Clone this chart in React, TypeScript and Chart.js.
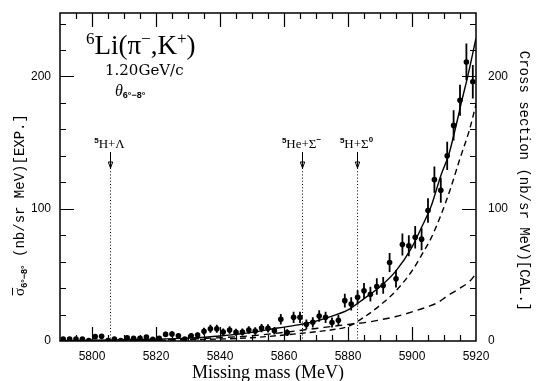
import React, { useEffect, useRef } from "react";
import { Chart, registerables } from "chart.js";

Chart.register(...registerables);

// ---- data ----
const dataMass = [
  5791, 5793, 5795, 5797, 5799, 5801, 5803, 5805, 5807, 5809,
  5811, 5813, 5815, 5817, 5819, 5821, 5823, 5825, 5827, 5829,
  5831, 5833, 5835, 5837, 5839, 5841, 5843, 5845, 5847, 5849,
  5851, 5853, 5855, 5857, 5859, 5861, 5863, 5865, 5867, 5869,
  5871, 5873, 5875, 5877, 5879, 5881, 5883, 5885, 5887, 5889,
  5891, 5893, 5895, 5897, 5899, 5901, 5903, 5905, 5907, 5909,
  5911, 5913, 5915, 5917, 5919,
];
const dataValue = [
  1.5, 1.5, 1.5, 1.5, 0.3, 3.3, 3.5, 0.3, 1.5, 0.3,
  2.5, 2.0, 2.0, 3.0, 1.3, 2.0, 5.0, 5.3, 4.0, 1.5,
  4.0, 4.5, 7.3, 9.3, 9.3, 6.8, 8.3, 6.6, 6.8, 8.3,
  7.6, 9.8, 9.6, 7.8, 16.4, 6.3, 17.9, 17.9, 12.6, 14.1,
  18.9, 17.9, 14.0, 15.7, 30.5, 28.0, 33.0, 38.0, 35.4, 41.2,
  42.0, 59.3, 47.0, 73.0, 72.0, 78.5, 77.0, 98.7, 122, 114,
  140, 163, 182, 211, 196,
];
const dataError = [
  1.0, 1.0, 1.0, 1.0, 1.0, 1.6, 1.6, 1.0, 1.0, 1.0,
  1.4, 1.3, 1.3, 1.5, 1.2, 1.4, 2.0, 2.0, 1.8, 1.3,
  1.8, 2.0, 2.7, 3.0, 3.0, 2.6, 2.9, 2.6, 2.6, 2.9,
  2.8, 3.1, 3.1, 2.8, 4.0, 2.6, 4.2, 4.2, 3.6, 3.8,
  4.3, 4.2, 3.8, 4.0, 5.2, 5.0, 5.4, 5.8, 5.6, 6.2,
  6.3, 7.2, 6.6, 8.3, 8.0, 8.5, 8.3, 9.2, 10.0, 9.5,
  10.7, 11.4, 11.7, 13.9, 12.6,
];

// total calculation (solid)
const totalMass = [5790, 5800, 5810, 5820, 5830, 5840, 5850, 5858, 5864, 5870, 5875, 5880, 5885, 5890, 5895, 5900, 5903, 5906, 5909, 5911.5, 5913.5, 5915.5, 5917.5, 5920];
const totalValue = [0.3, 0.6, 1.0, 1.4, 2.2, 3.8, 6.5, 9.8, 12, 15, 18.8, 23.5, 32, 41, 53, 71, 86, 102, 125, 141, 160, 181, 201, 229];

// steep component (upper dashed)
const upperMass = [5790, 5810, 5820, 5830, 5840, 5850, 5860, 5870, 5875, 5880, 5885, 5890, 5895, 5900, 5903, 5906, 5909, 5912, 5915, 5918, 5920];
const upperValue = [0, 0.2, 0.5, 1.0, 1.5, 2.5, 4.5, 7, 8.5, 11, 18, 27, 38, 53, 65, 78, 95, 115, 138, 160, 179];

// slow component (lower dashed)
const lowerMass = [5790, 5810, 5820, 5830, 5840, 5850, 5860, 5870, 5880, 5887, 5890, 5895, 5900, 5905, 5908, 5911, 5915, 5918, 5920];
const lowerValue = [0.1, 0.3, 0.7, 1.4, 2.5, 4, 6.5, 9.5, 12.5, 14.6, 16, 18.5, 22, 26, 29, 34, 40, 45, 51];

// thresholds
const thresholdMass = [5805.6, 5865.7, 5882.9];
const thresholdNucleus = ["H", "He", "H"];
const thresholdHyperon = ["Λ", "Σ", "Σ"];
const thresholdCharge = ["", "−", "0"];

const xTickValues = [5800, 5820, 5840, 5860, 5880, 5900, 5920];
const yTickValues = [0, 100, 200];

const X_MIN = 5790;
const X_MAX = 5920;
const Y_MAX = 248;

type Part = { t: string; f: string; dy?: number };

function richWidth(ctx: CanvasRenderingContext2D, parts: Part[]) {
  let w = 0;
  for (const p of parts) {
    ctx.font = p.f;
    w += ctx.measureText(p.t).width;
  }
  return w;
}

function drawRich(ctx: CanvasRenderingContext2D, parts: Part[], x: number, y: number, center: boolean) {
  let cx = center ? x - richWidth(ctx, parts) / 2 : x;
  const starts: number[] = [];
  for (const p of parts) {
    ctx.font = p.f;
    starts.push(cx);
    ctx.fillText(p.t, cx, y + (p.dy || 0));
    cx += ctx.measureText(p.t).width;
  }
  return starts;
}

const SERIF = '"Liberation Serif", "DejaVu Serif", serif';
const WSERIF = '"DejaVu Serif", "Liberation Serif", serif';
const SANS = '"Liberation Sans", Arial, sans-serif';
const MONO = '"Liberation Mono", "DejaVu Sans Mono", monospace';

const marksPlugin = {
  id: "marks",
  afterDatasetsDraw(chart: any) {
    const ctx: CanvasRenderingContext2D = chart.ctx;
    const a = chart.chartArea;
    const xs = chart.scales.x;
    const ys = chart.scales.y;
    ctx.save();
    ctx.strokeStyle = "#000";
    ctx.fillStyle = "#000";

    // error bars
    ctx.lineWidth = 1.8;
    ctx.beginPath();
    for (let i = 0; i < dataMass.length; i++) {
      const px = xs.getPixelForValue(dataMass[i]);
      const lo = Math.max(0, dataValue[i] - dataError[i]);
      const hi = dataValue[i] + dataError[i];
      ctx.moveTo(px, Math.min(a.bottom, ys.getPixelForValue(lo)));
      ctx.lineTo(px, ys.getPixelForValue(hi));
    }
    ctx.stroke();

    // thresholds
    const labelY = 148;
    const arrowTop = 152;
    const arrowTip = 168;
    for (let i = 0; i < thresholdMass.length; i++) {
      const px = Math.round(xs.getPixelForValue(thresholdMass[i])) + 0.5;
      ctx.lineWidth = 1;
      ctx.setLineDash([1, 2.2]);
      ctx.beginPath();
      ctx.moveTo(px, arrowTip);
      ctx.lineTo(px, a.bottom);
      ctx.stroke();
      ctx.setLineDash([]);
      ctx.beginPath();
      ctx.moveTo(px, arrowTop);
      ctx.lineTo(px, arrowTip);
      ctx.stroke();
      ctx.beginPath();
      ctx.moveTo(px - 2.2, arrowTip - 6);
      ctx.lineTo(px, arrowTip);
      ctx.lineTo(px + 2.2, arrowTip - 6);
      ctx.closePath();
      ctx.stroke();
      const parts: Part[] = [
        { t: "5", f: `bold 8px ${SANS}`, dy: -5 },
        { t: thresholdNucleus[i] + "+" + thresholdHyperon[i], f: `13px ${SERIF}` },
      ];
      if (thresholdCharge[i]) parts.push({ t: thresholdCharge[i], f: `bold 8px ${SANS}`, dy: -6 });
      ctx.textAlign = "left";
      ctx.textBaseline = "alphabetic";
      drawRich(ctx, parts, px - 1, labelY, true);
    }
    ctx.restore();
  },
};

const framePlugin = {
  id: "frame",
  afterDraw(chart: any) {
    const ctx: CanvasRenderingContext2D = chart.ctx;
    const a = chart.chartArea;
    const xs = chart.scales.x;
    const ys = chart.scales.y;
    ctx.save();
    ctx.globalAlpha = 1;
    ctx.setLineDash([]);
    ctx.strokeStyle = "#000000";
    ctx.fillStyle = "#000000";

    // frame
    const L = Math.round(a.left), R = Math.round(a.right), T = Math.round(a.top), B = Math.round(a.bottom);
    ctx.lineWidth = 1.5;
    ctx.beginPath();
    ctx.moveTo(L, T);
    ctx.lineTo(R, T);
    ctx.lineTo(R, B);
    ctx.lineTo(L, B);
    ctx.closePath();
    ctx.stroke();

    // inward ticks
    ctx.lineWidth = 1.2;
    ctx.beginPath();
    for (let v = X_MIN + 5; v < X_MAX; v += 5) {
      const px = Math.round(xs.getPixelForValue(v)) + 0.5;
      const len = v % 20 === 0 ? 14 : 6;
      ctx.moveTo(px, B);
      ctx.lineTo(px, B - len);
      ctx.moveTo(px, T);
      ctx.lineTo(px, T + len);
    }
    for (let v = 20; v < Y_MAX; v += 20) {
      const py = Math.round(ys.getPixelForValue(v)) + 0.5;
      const len = v % 100 === 0 ? 14 : 6;
      ctx.moveTo(L, py);
      ctx.lineTo(L + len, py);
      ctx.moveTo(R, py);
      ctx.lineTo(R - len, py);
    }
    ctx.stroke();

    // reaction annotation
    ctx.textAlign = "left";
    ctx.textBaseline = "alphabetic";
    drawRich(ctx, [
      { t: "6", f: `17px ${SERIF}`, dy: -10 },
      { t: "Li(π", f: `27px ${SERIF}` },
      { t: "−", f: `17px ${SERIF}`, dy: -10 },
      { t: ",K", f: `27px ${SERIF}` },
      { t: "+", f: `17px ${SERIF}`, dy: -10 },
      { t: ")", f: `27px ${SERIF}` },
    ], 86, 54, false);
    drawRich(ctx, [{ t: "1.20GeV/c", f: `15px ${WSERIF}` }], 105, 75, false);
    drawRich(ctx, [
      { t: "θ", f: `italic 16px ${SERIF}` },
      { t: "6°−8°", f: `bold 9px ${SANS}`, dy: 2 },
    ], 115, 96, false);

    // axis titles
    ctx.font = `18px ${SERIF}`;
    ctx.textAlign = "center";
    ctx.fillText("Missing mass (MeV)", (a.left + a.right) / 2, 378);

    // left title
    ctx.save();
    ctx.translate(19, 205);
    ctx.rotate(-Math.PI / 2);
    ctx.textAlign = "left";
    const lparts: Part[] = [
      { t: "σ", f: `15px ${SERIF}` },
      { t: "6°−8°", f: `bold 9px ${SANS}`, dy: 3 },
      { t: " (nb/sr MeV)[EXP.]", f: `14px ${MONO}` },
    ];
    const st = drawRich(ctx, lparts, 0, 5, true);
    ctx.font = `15px ${SERIF}`;
    const sw = ctx.measureText("σ").width;
    ctx.lineWidth = 1;
    ctx.beginPath();
    ctx.moveTo(st[0] + 0.5, -6.5);
    ctx.lineTo(st[0] + sw, -6.5);
    ctx.stroke();
    ctx.restore();

    // right title
    ctx.save();
    ctx.translate(525, 181);
    ctx.rotate(Math.PI / 2);
    ctx.textAlign = "center";
    ctx.font = `14px ${MONO}`;
    ctx.fillText("Cross section (nb/sr MeV)[CAL.]", 0, 5);
    ctx.restore();

    ctx.restore();
  },
};

export default function App() {
  const ref = useRef<HTMLCanvasElement | null>(null);
  useEffect(() => {
    document.body.style.margin = "0";
    const canvas = ref.current;
    if (!canvas) return;
    const pts = dataMass.map((m, i) => ({ x: m, y: dataValue[i] }));
    const tot = totalMass.map((m, i) => ({ x: m, y: totalValue[i] }));
    const up = upperMass.map((m, i) => ({ x: m, y: upperValue[i] }));
    const low = lowerMass.map((m, i) => ({ x: m, y: lowerValue[i] }));
    const tickFont = { family: SANS, size: 12 };
    const zeroPad = (s: any) => { s.paddingTop = 0; s.paddingBottom = 0; s.paddingLeft = 0; s.paddingRight = 0; };
    const chart = new Chart(canvas, {
      type: "scatter",
      data: {
        datasets: [
          { type: "line", data: tot, borderColor: "#000", borderWidth: 1.4, pointRadius: 0, cubicInterpolationMode: "monotone", fill: false },
          { type: "line", data: up, borderColor: "#000", borderWidth: 1.4, borderDash: [6, 4], pointRadius: 0, cubicInterpolationMode: "monotone", fill: false },
          { type: "line", data: low, borderColor: "#000", borderWidth: 1.4, borderDash: [7, 5], pointRadius: 0, cubicInterpolationMode: "monotone", fill: false },
          { type: "scatter", data: pts, pointRadius: 2.8, pointBackgroundColor: "#000", pointBorderWidth: 0, pointBorderColor: "#000" },
        ] as any,
      },
      options: {
        animation: false,
        responsive: false,
        maintainAspectRatio: false,
        events: [],
        layout: { padding: { top: 13, left: 0, right: 0, bottom: 0 } },
        plugins: { legend: { display: false }, tooltip: { enabled: false } },
        scales: {
          x: {
            type: "linear",
            min: X_MIN,
            max: X_MAX,
            grid: { display: false, drawTicks: false },
            border: { display: false },
            ticks: { font: tickFont, color: "#000", padding: 8, maxRotation: 0, autoSkip: false, callback: (v: any) => String(v) },
            afterBuildTicks: (s: any) => { s.ticks = xTickValues.map((v) => ({ value: v })); },
            afterFit: (s: any) => { s.height = 40; zeroPad(s); },
          },
          y: {
            type: "linear",
            position: "left",
            min: 0,
            max: Y_MAX,
            grid: { display: false, drawTicks: false },
            border: { display: false },
            ticks: { font: tickFont, color: "#000", padding: 9, autoSkip: false, callback: (v: any) => String(v) },
            afterBuildTicks: (s: any) => { s.ticks = yTickValues.map((v) => ({ value: v })); },
            afterFit: (s: any) => { s.width = 60; zeroPad(s); },
          },
          y2: {
            type: "linear",
            position: "right",
            min: 0,
            max: Y_MAX,
            grid: { display: false, drawTicks: false },
            border: { display: false },
            ticks: { font: tickFont, color: "#000", padding: 12, autoSkip: false, callback: (v: any) => String(v) },
            afterBuildTicks: (s: any) => { s.ticks = yTickValues.map((v) => ({ value: v })); },
            afterFit: (s: any) => { s.width = 64; zeroPad(s); },
          },
        },
      } as any,
      plugins: [marksPlugin, framePlugin],
    });
    return () => chart.destroy();
  }, []);
  return (
    <div style={{ position: "fixed", left: 0, top: 0, width: 540, height: 381, background: "#fff" }}>
      <canvas ref={ref} width={540} height={381} style={{ width: 540, height: 381, display: "block" }} />
    </div>
  );
}
